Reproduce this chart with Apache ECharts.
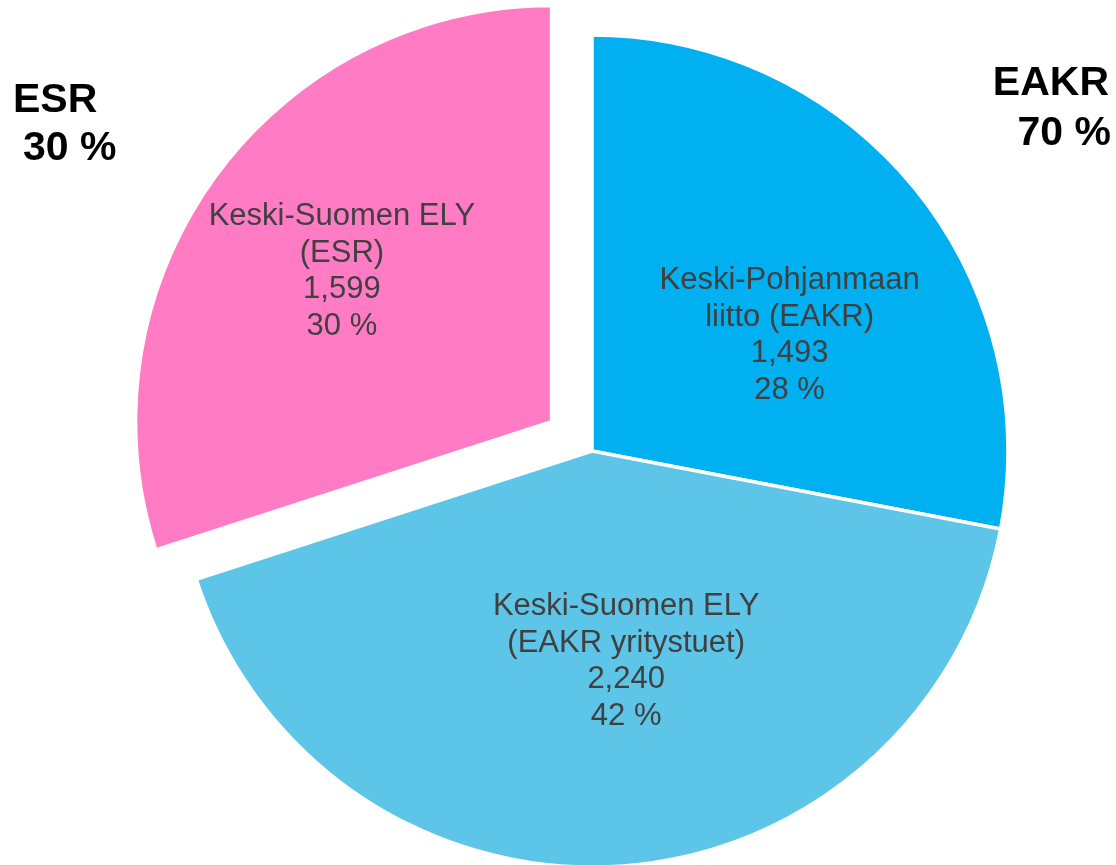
<!DOCTYPE html>
<html>
<head>
<meta charset="utf-8">
<script src="https://cdn.jsdelivr.net/npm/echarts@6/dist/echarts.min.js"></script>
<style>
  html, body { margin: 0; padding: 0; background: #fff; }
  #chart { width: 1116px; height: 865px; }
</style>
</head>
<body>
<div id="chart"></div>
<script>
// Funding split (M€), Finnish decimal comma in labels
const sliceNames = ['Keski-Pohjanmaan\nliitto (EAKR)', 'Keski-Suomen ELY\n(EAKR yritystuet)', 'Keski-Suomen ELY\n(ESR)'];
const sliceValues = [1.493, 2.240, 1.599];
const sliceFund = ['EAKR', 'EAKR', 'ESR'];
const sliceColors = ['#00B0F0', '#5CC5E8', '#FF7BC4'];

// nudges so the inner labels sit where the original had them
const labelNudge = [[35, 19], [21, 0], [-39, -26]];

const fmt = (v) => v.toFixed(3).replace('.', ',');
const total = sliceValues.reduce((a, b) => a + b, 0);
const fundShare = (fund) => {
  const s = sliceValues.reduce((acc, v, i) => acc + (sliceFund[i] === fund ? v : 0), 0);
  return Math.round(s / total * 100) + ' %';
};

const chart = echarts.init(document.getElementById('chart'));

const bigText = { fontSize: 41, fontWeight: 'bold', color: '#000', fontFamily: 'Liberation Sans, Arial, sans-serif', lineHeight: 41 };

const option = {
  animation: false,
  backgroundColor: '#fff',
  title: [
    { text: 'ESR', left: 13, top: 80, padding: 0, textStyle: bigText },
    { text: fundShare('ESR'), left: 23, top: 128, padding: 0, textStyle: bigText },
    { text: 'EAKR', right: 7, top: 63, padding: 0, textStyle: bigText },
    { text: fundShare('EAKR'), right: 5, top: 113, padding: 0, textStyle: bigText }
  ],
  series: [{
    type: 'pie',
    center: [592, 451],
    radius: 416,
    startAngle: 90,
    clockwise: true,
    selectedMode: 'single',
    selectedOffset: 50,
    itemStyle: { borderColor: '#fff', borderWidth: 3.5 },
    label: {
      show: true,
      position: 'inner',
      color: '#404040',
      fontSize: 31,
      lineHeight: 36.5,
      fontFamily: 'Liberation Sans, Arial, sans-serif',
      formatter: (p) => p.name + '\n' + fmt(p.value) + '\n' + Math.round(p.percent) + ' %'
    },
    labelLayout: (p) => ({ dx: labelNudge[p.dataIndex][0], dy: labelNudge[p.dataIndex][1] }),
    emphasis: { disabled: true },
    data: sliceNames.map((name, i) => ({
      name: name,
      value: sliceValues[i],
      selected: sliceFund[i] === 'ESR',
      itemStyle: { color: sliceColors[i] }
    }))
  }]
};

chart.setOption(option);
</script>
</body>
</html>
